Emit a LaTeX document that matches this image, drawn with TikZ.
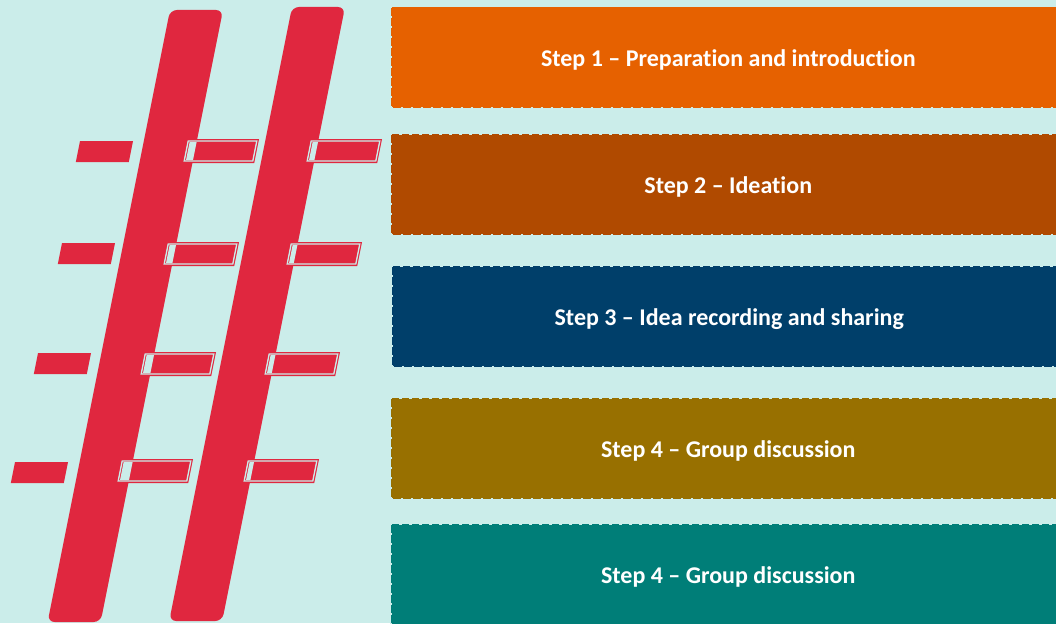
\documentclass[tikz,border=0pt]{standalone}
\usepackage{fontspec}
\setmainfont{Carlito}[Ligatures={NoCommon,NoRequired,NoContextual}]
\definecolor{bgc}{RGB}{203,237,234}
\definecolor{hred}{RGB}{224,39,63}
\definecolor{c1}{RGB}{230,97,0}
\definecolor{c2}{RGB}{176,74,0}
\definecolor{c3}{RGB}{0,63,106}
\definecolor{c4}{RGB}{152,112,0}
\definecolor{c5}{RGB}{0,126,120}
\def\barL{(170,10) -- (223,10) -- (100.6,622) -- (47.6,622) -- cycle}
\def\barR{(292,7) -- (345,7) -- (222.2,621) -- (169.2,621) -- cycle}
\newcommand{\solodash}[2]{\fill[hred] (#1,#2) -- ++(53,0) -- ++(-4.2,21) -- ++(-53,0) -- cycle;}
\newcommand{\framedash}[2]{%
  \fill[hred] (#1,#2) -- ++(73,0) -- ++(-4.8,24) -- ++(-73,0) -- cycle;
  \begin{scope}
    \clip (#1+3.6,#2+3) -- ++(65.8,0) -- ++(-3.6,18) -- ++(-65.8,0) -- cycle;
    \fill[bgc] \barL;
    \fill[bgc] \barR;
  \end{scope}
  \draw[bgc, line width=1.3pt] (#1+2.2,#2+2) -- ++(68.6,0) -- ++(-4,20) -- ++(-68.6,0) -- cycle;
}
\tikzset{
  stepbox/.style={rectangle, draw=bgc, line width=1.5pt, dash pattern=on 2.5pt off 7.5pt,
    minimum width=675pt, minimum height=101pt, anchor=north west, inner sep=0pt,
    text height=23pt, text depth=4.5pt,
    text=white, font=\fontsize{24}{28}\selectfont\bfseries},
  hashbar/.style={fill=hred, rounded corners=7pt}
}
\begin{document}
\begin{tikzpicture}[x=1pt,y=-1pt]
\useasboundingbox (0,0) rectangle (1056,623);
\clip (0,0) rectangle (1056,623);
\fill[bgc] (0,0) rectangle (1056,623);
% hash bars
\path[hashbar] \barL;
\path[hashbar] \barR;
% solo dashes
\solodash{80}{141}
\solodash{62}{243}
\solodash{38}{353}
\solodash{15}{462}
% framed dashes
\framedash{186}{139}
\framedash{309}{139}
\framedash{166}{242}
\framedash{289}{242}
\framedash{143}{352}
\framedash{267}{352}
\framedash{120}{459}
\framedash{246}{459}
% step boxes
\node[stepbox, fill=c1] (s1) at (390,6) {Step 1 – Preparation and introduction};
\node[stepbox, fill=c2] (s2) at (390,133) {Step 2 – Ideation};
\node[stepbox, fill=c3] (s3) at (391,265) {Step 3 – Idea recording and sharing};
\node[stepbox, fill=c4] (s4) at (390,397) {Step 4 – Group discussion};
\node[stepbox, fill=c5] (s5) at (390,523) {Step 4 – Group discussion};
\end{tikzpicture}
\end{document}
